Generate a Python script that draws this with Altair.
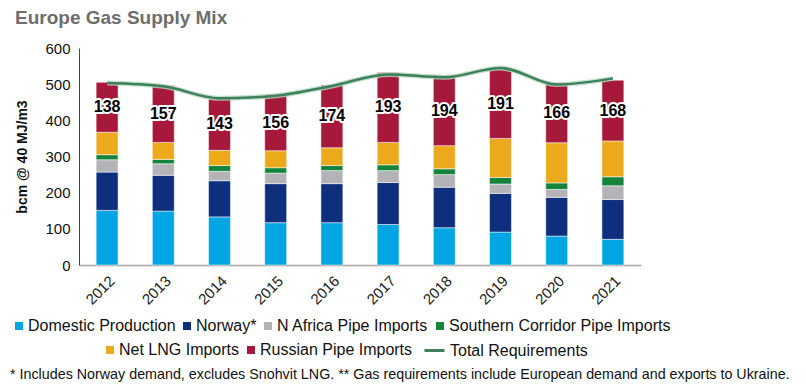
import altair as alt
import pandas as pd

# ---- data ----
years = ["2012", "2013", "2014", "2015", "2016", "2017", "2018", "2019", "2020", "2021"]
categories = [
    "Domestic Production",
    "Norway*",
    "N Africa Pipe Imports",
    "Southern Corridor Pipe Imports",
    "Net LNG Imports",
    "Russian Pipe Imports",
]
domestic = [151, 149, 133, 117, 117, 112, 103, 91, 80, 71]
norway = [106, 99, 100, 108, 108, 116, 112, 107, 107, 110]
n_africa = [34, 32, 26, 29, 36, 33, 35, 26, 22, 38]
southern = [14, 12, 16, 15, 14, 16, 16, 18, 18, 25]
net_lng = [62, 47, 42, 47, 49, 62, 64, 108, 111, 99]
russian = [138, 157, 143, 156, 174, 193, 194, 191, 166, 168]
total_req = [503, 494, 461, 468, 495, 527, 519, 545, 499, 516]
line_name = "Total Requirements"
colors = ["#00a6e4", "#0d2f7d", "#b4b4b8", "#14843c", "#eda91c", "#a6193a"]
line_color = "#3e7f5c"
footnote = ("* Includes Norway demand, excludes Snohvit LNG. ** Gas requirements "
            "include European demand and exports to Ukraine.")

series = [domestic, norway, n_africa, southern, net_lng, russian]
rows = []
for i, yr in enumerate(years):
    for k, (cat, vals) in enumerate(zip(categories, series)):
        rows.append({"year": yr, "category": cat, "order": k, "value": vals[i]})
df = pd.DataFrame(rows)
tot = pd.DataFrame({"year": years, "series": line_name, "value": total_req})
foot = pd.DataFrame({"t": [footnote]})

FONT = "Liberation Sans"

x_axis = alt.Axis(labelAngle=-45, labelFontSize=15, labelColor="#222222", labelFont=FONT,
                  ticks=False, labelPadding=8, domainColor="#a6a6a6", domainWidth=1.5,
                  grid=False)
x_scale = alt.Scale(paddingInner=0.61, paddingOuter=0.305)
y_scale = alt.Scale(domain=[0, 600], nice=False, zero=True)
y_axis = alt.Axis(values=[0, 100, 200, 300, 400, 500, 600], labelFontSize=15, labelFont=FONT,
                  labelColor="#111111", ticks=False, labelPadding=9, domainColor="#444444",
                  domainWidth=1, grid=False, titleFontSize=14, titleFont=FONT,
                  titleFontWeight="bold", titleColor="#111111", titlePadding=15)
Y_TITLE = "bcm @ 40 MJ/m3"


def xe():
    return alt.X("year:N", scale=x_scale, axis=x_axis, title=None)


def ye(field):
    return alt.Y(field, scale=y_scale, axis=y_axis, title=Y_TITLE)


legend_common = dict(orient="none", direction="horizontal", title=None, labelFontSize=16,
                     labelFont=FONT, labelColor="#111111", symbolSize=64, labelOffset=1,
                     columnPadding=3, padding=0, symbolStrokeWidth=0, labelLimit=0)

base = alt.Chart(df).transform_stack(
    stack="value", groupby=["year"], as_=["y0", "y1"],
    sort=[alt.SortField(field="order", order="ascending")],
)

bars_a = base.transform_filter("datum.order < 4").mark_bar(
    stroke="white", strokeWidth=0.5
).encode(
    x=xe(), y=ye("y0:Q"), y2="y1:Q",
    color=alt.Color("category:N",
                    scale=alt.Scale(domain=categories[:4], range=colors[:4]),
                    legend=alt.Legend(legendX=-68, legendY=270, columns=4,
                                      symbolType="square", **legend_common)),
)

bars_b = base.transform_filter("datum.order >= 4").mark_bar(
    stroke="white", strokeWidth=0.5
).encode(
    x=xe(), y=ye("y0:Q"), y2="y1:Q",
    fill=alt.Fill("category:N",
                  scale=alt.Scale(domain=categories[4:], range=colors[4:]),
                  legend=alt.Legend(legendX=23, legendY=294, columns=2,
                                    symbolType="square", **legend_common)),
)

lab = base.transform_filter("datum.order == 5").transform_calculate(
    mid="(datum.y0 + datum.y1) / 2"
)
label_halo = lab.mark_text(font=FONT, fontSize=16, fontWeight="bold", stroke="white",
                           strokeWidth=4, strokeJoin="round", fill="white").encode(
    x=xe(), y=ye("mid:Q"), text="value:Q")
label_text = lab.mark_text(font=FONT, fontSize=16, fontWeight="bold", color="#000000").encode(
    x=xe(), y=ye("mid:Q"), text="value:Q")

line_halo = alt.Chart(tot).mark_line(strokeWidth=5, interpolate="monotone",
                                     color="#b7dcc4", opacity=0.8).encode(
    x=xe(), y=ye("value:Q"))
line = alt.Chart(tot).mark_line(strokeWidth=2.5, interpolate="monotone").encode(
    x=xe(), y=ye("value:Q"),
    stroke=alt.Stroke("series:N", scale=alt.Scale(domain=[line_name], range=[line_color]),
                      legend=alt.Legend(orient="none", legendX=344, legendY=291,
                                        direction="horizontal", title=None,
                                        labelFontSize=16, labelFont=FONT,
                                        labelColor="#111111", symbolType="stroke",
                                        symbolSize=400, symbolStrokeWidth=3,
                                        labelOffset=4, padding=0, labelLimit=0)),
)

note = alt.Chart(foot).mark_text(font=FONT, fontSize=14.3, align="left",
                                 baseline="alphabetic", color="#111111").encode(
    x=alt.value(-69), y=alt.value(331), text="t:N")

chart = alt.layer(bars_a, bars_b, line_halo, line, label_halo, label_text, note).properties(
    width=562, height=217,
    title=alt.TitleParams("Europe Gas Supply Mix", anchor="start", frame="group", dx=-64,
                          dy=5, fontSize=19, fontWeight="bold", color="#6d6d6d", font=FONT,
                          offset=18),
    autosize=alt.AutoSizeParams(type="none"),
    padding={"left": 71, "top": 40, "right": 157, "bottom": 118},
).configure_view(stroke=None)

chart.save("out.html", embed_options={"renderer": "svg", "actions": False})
